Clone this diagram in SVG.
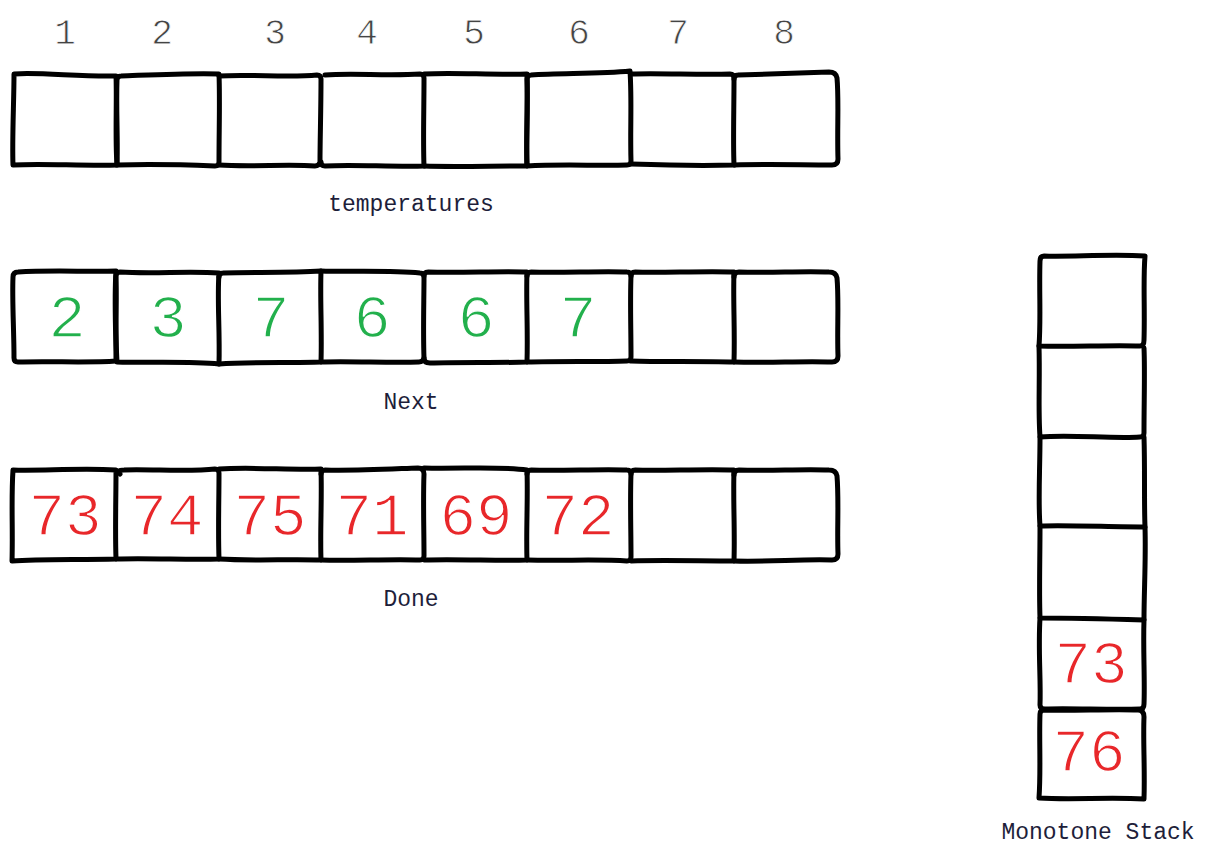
<svg xmlns="http://www.w3.org/2000/svg" width="1210" height="858" viewBox="0 0 1210 858">
<style>
.b{fill:none;stroke:#000;stroke-width:5;stroke-linejoin:round;stroke-linecap:round}
.idx{font-family:"Liberation Mono","DejaVu Sans Mono",monospace;font-size:36px;fill:#444;stroke:#fff;stroke-width:0.8;text-anchor:middle}
.g{font-family:"Liberation Mono","DejaVu Sans Mono",monospace;font-size:62px;fill:#22b04c;stroke:#fff;stroke-width:1.4;text-anchor:middle}
.r{font-family:"Liberation Mono","DejaVu Sans Mono",monospace;font-size:61px;fill:#e8272a;stroke:#fff;stroke-width:1.4;text-anchor:middle}
.lbl{font-family:"Liberation Mono","DejaVu Sans Mono",monospace;font-size:23px;fill:#1e1e3a;text-anchor:middle}
</style>
<rect width="1210" height="858" fill="#fff"/>
<g id="indices">
<text class="idx" x="65" y="44">1</text>
<text class="idx" x="162" y="44">2</text>
<text class="idx" x="275" y="44">3</text>
<text class="idx" x="367" y="44">4</text>
<text class="idx" x="474" y="44">5</text>
<text class="idx" x="579" y="44">6</text>
<text class="idx" x="678" y="44">7</text>
<text class="idx" x="784" y="44">8</text>
</g>
<g id="temperatures">
<path class="b" d="M14,74 C40,72 80,77 116,76 C117,100 115,140 117,165 C80,166 40,163 13,165 C12,140 14,100 14,74 Z"/>
<path class="b" d="M121,76 Q117,76 117,80 C116,110 118,140 117,165 C150,164 190,165 215,166 Q219,166 219,162 C219,130 220,100 219,74 C190,73 150,75 121,76 Z"/>
<path class="b" d="M219,76 C250,74 290,78 317,75 Q321,75 321,79 C321,110 320,140 320,162 Q319,166 315,166 C290,164 250,167 219,165"/>
<path class="b" d="M325,75 C350,73 390,76 420,74 Q424,74 424,78 C424,110 423,140 424,166 C390,167 350,164 325,166 Q321,166 321,162"/>
<path class="b" d="M424,74 C450,72 490,75 527,74 C528,100 526,140 527,166 C490,166 450,167 424,166"/>
<path class="b" d="M531,75 Q527,75 527,79 C528,110 526,140 527,166 C560,164 600,166 627,165 Q631,165 631,161 C630,130 632,100 630,71 C600,74 560,73 531,75 Z"/>
<path class="b" d="M631,74 C660,73 700,75 730,74 Q734,74 734,78 C734,110 733,140 734,165 C700,166 660,165 631,164"/>
<path class="b" d="M738,75 Q734,75 734,79 M734,165 C770,164 800,165 832,165 Q838,165 838,159 C837,130 839,100 837,78 Q836,72 829,72 C800,73 770,74 738,75"/>
</g>
<g id="next">
<path class="b" d="M18,272 Q13,272 13,277 C12,300 14,330 14,358 Q14,362 18,362 C50,361 90,363 116,361 C116,330 114,300 116,271 C90,272 50,270 18,272 Z"/>
<path class="b" d="M120,272 Q116,272 116,276 C117,300 115,330 117,362 C150,363 190,361 219,364 C220,330 217,300 219,273 C190,271 150,274 120,272 Z"/>
<path class="b" d="M223,273 Q219,273 219,277 M219,364 C250,362 290,363 321,362 C322,330 320,300 321,271 C290,273 250,272 223,273"/>
<path class="b" d="M321,271 C350,272 390,270 420,273 Q424,273 424,277 C424,300 423,330 424,358 Q423,362 419,362 C390,363 350,361 321,362"/>
<path class="b" d="M428,272 Q424,272 424,276 M424,358 Q424,363 430,363 C460,362 500,363 527,362 C528,330 526,300 527,272 C500,271 460,273 428,272"/>
<path class="b" d="M531,272 Q527,272 527,276 M527,362 C560,361 600,362 627,361 Q631,361 631,357 C631,330 630,300 631,276 Q631,272 627,272 C600,271 560,273 531,272"/>
<path class="b" d="M635,272 Q631,272 631,276 M631,361 C660,362 700,361 734,362 C735,330 733,300 734,272 C700,271 660,273 635,272"/>
<path class="b" d="M734,362 C770,363 800,361 832,362 Q838,362 838,356 C837,330 839,300 837,278 Q836,272 829,272 C800,271 770,273 739,272 Q734,272 734,277"/>
<text class="g" x="67" y="337">2</text>
<text class="g" x="168" y="337">3</text>
<text class="g" x="271" y="337">7</text>
<text class="g" x="372" y="337">6</text>
<text class="g" x="476" y="337">6</text>
<text class="g" x="578" y="337">7</text>
</g>
<g id="done">
<path class="b" d="M13,470 C40,471 80,468 116,470 C116,500 115,530 116,559 C80,560 40,559 12,561 C13,530 11,500 13,470 Z"/>
<path class="b" d="M120,474 Q116,470 124,470 C150,469 190,472 215,469 Q219,469 219,473 C219,500 218,530 219,559 C190,560 150,558 116,559"/>
<path class="b" d="M219,469 C250,467 290,470 321,469 C322,500 320,530 321,560 C290,559 250,561 219,559"/>
<path class="b" d="M325,470 Q321,470 321,474 M321,560 C350,561 390,559 420,560 Q424,560 424,556 C424,530 423,500 424,474 Q424,468 418,468 C390,469 350,471 325,470"/>
<path class="b" d="M424,468 C460,469 500,466 527,470 C528,500 526,530 527,560 C500,561 460,559 424,560"/>
<path class="b" d="M531,470 Q527,470 527,474 M527,560 C560,561 600,559 627,561 Q631,561 631,557 C631,530 630,500 631,474 Q631,470 627,470 C600,469 560,471 531,470"/>
<path class="b" d="M635,470 Q631,470 631,474 M631,561 C660,560 700,561 734,561 C735,530 733,500 734,470 C700,469 660,471 635,470"/>
<path class="b" d="M734,561 C770,562 800,559 832,560 Q838,560 838,554 C837,530 839,500 837,476 Q836,470 829,470 C800,469 770,471 739,470 Q734,470 734,475"/>
<text class="r" x="65" y="535">73</text>
<text class="r" x="167" y="535">74</text>
<text class="r" x="270" y="535">75</text>
<text class="r" x="372" y="535">71</text>
<text class="r" x="476" y="535">69</text>
<text class="r" x="578" y="535">72</text>
</g>
<g id="stack">
<path class="b" d="M1044,256 Q1040,256 1040,261 C1039,290 1041,320 1039,346 C1070,347 1110,345 1140,346 Q1144,346 1144,340 C1145,310 1143,280 1145,256 C1110,254 1070,257 1044,256 Z"/>
<path class="b" d="M1039,346 C1040,380 1038,410 1040,437 C1070,434 1110,439 1140,437 Q1144,437 1144,433 C1144,400 1145,370 1144,348"/>
<path class="b" d="M1040,437 C1040,470 1038,500 1040,526 C1070,525 1110,527 1145,527 C1144,500 1145,470 1144,437"/>
<path class="b" d="M1040,526 C1040,560 1039,590 1040,618 C1070,618 1110,619 1144,620 C1144,590 1146,560 1145,527"/>
<path class="b" d="M1040,618 C1038,650 1041,680 1040,705 Q1040,709 1045,709 C1070,708 1110,710 1140,709 Q1144,709 1144,704 C1145,680 1143,650 1144,620"/>
<path class="b" d="M1044,710 Q1040,710 1040,714 C1039,740 1041,770 1039,798 C1070,800 1110,797 1144,799 C1145,770 1143,740 1144,717 Q1144,710 1138,710 C1110,709 1070,711 1044,710 Z"/>
<text class="r" x="1091" y="683">73</text>
<text class="r" x="1089" y="771">76</text>
</g>
<g id="labels">
<text class="lbl" x="411" y="211">temperatures</text>
<text class="lbl" x="411" y="409">Next</text>
<text class="lbl" x="411" y="606">Done</text>
<text class="lbl" x="1098" y="839">Monotone Stack</text>
</g>
</svg>
